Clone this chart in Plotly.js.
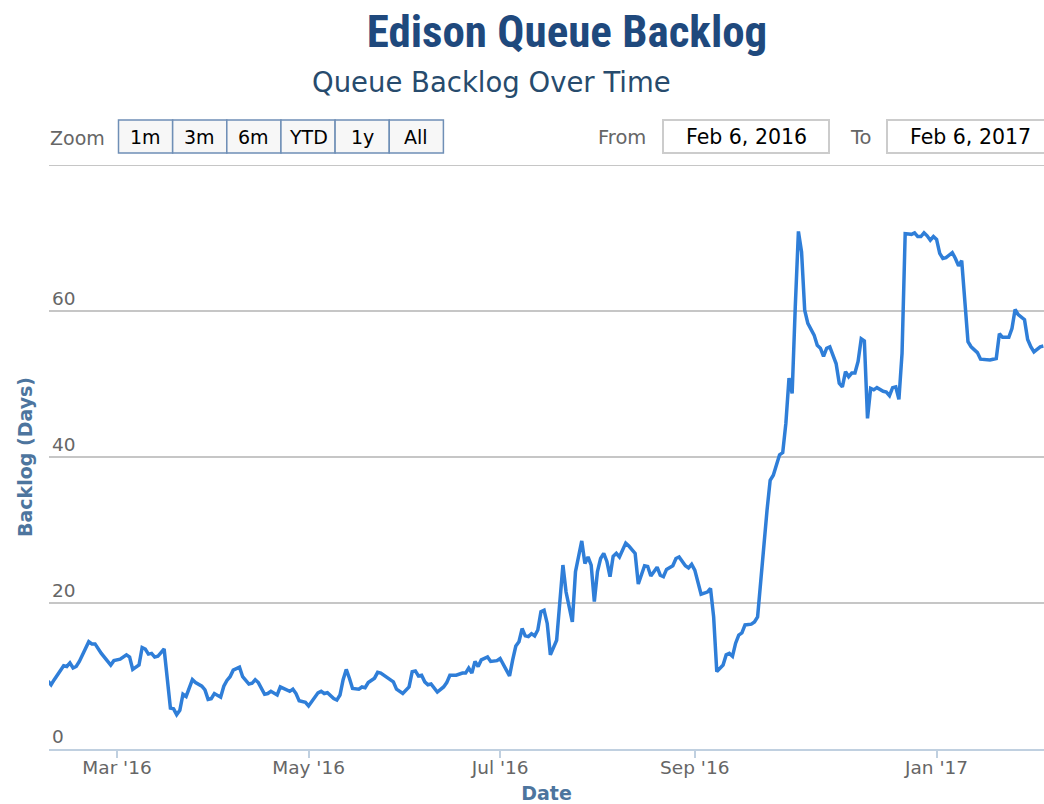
<!DOCTYPE html>
<html>
<head>
<meta charset="utf-8">
<script src="https://cdn.plot.ly/plotly-3.0.1.min.js"></script>
<style>
html, body { margin: 0; padding: 0; background: #ffffff; }
#chart { width: 1044px; height: 804px; }
</style>
</head>
<body>
<div id="chart"></div>
<script>
// ---- data ----
const dates = [
 '2016-02-08','2016-02-09','2016-02-10','2016-02-12','2016-02-13','2016-02-14','2016-02-15','2016-02-16','2016-02-17','2016-02-18',
 '2016-02-20','2016-02-21','2016-02-22','2016-02-23','2016-02-25','2016-02-26','2016-02-28','2016-02-29','2016-03-02','2016-03-04',
 '2016-03-05','2016-03-06','2016-03-08','2016-03-09','2016-03-10','2016-03-11','2016-03-12','2016-03-13','2016-03-14','2016-03-16',
 '2016-03-18','2016-03-19','2016-03-20','2016-03-21','2016-03-22','2016-03-23','2016-03-25','2016-03-26','2016-03-28','2016-03-29',
 '2016-03-30','2016-03-31','2016-04-01','2016-04-03','2016-04-04','2016-04-05','2016-04-06','2016-04-07','2016-04-09','2016-04-10',
 '2016-04-12','2016-04-13','2016-04-14','2016-04-15','2016-04-17','2016-04-18','2016-04-19','2016-04-21','2016-04-22','2016-04-23',
 '2016-04-25','2016-04-26','2016-04-27','2016-04-28','2016-04-30','2016-05-01','2016-05-03','2016-05-04','2016-05-05','2016-05-06',
 '2016-05-07','2016-05-09','2016-05-10','2016-05-11','2016-05-12','2016-05-13','2016-05-14','2016-05-15','2016-05-17','2016-05-18',
 '2016-05-19','2016-05-20','2016-05-22','2016-05-23','2016-05-24','2016-05-26','2016-05-27','2016-05-28','2016-05-29','2016-05-31',
 '2016-06-02','2016-06-03','2016-06-04','2016-06-05','2016-06-06','2016-06-07','2016-06-08','2016-06-09','2016-06-11','2016-06-13',
 '2016-06-14','2016-06-15','2016-06-17','2016-06-19','2016-06-20','2016-06-21','2016-06-22','2016-06-23','2016-06-24','2016-06-25',
 '2016-06-27','2016-06-28','2016-06-30','2016-07-01','2016-07-03','2016-07-04','2016-07-05','2016-07-06','2016-07-07','2016-07-08',
 '2016-07-09','2016-07-10','2016-07-11','2016-07-12','2016-07-13','2016-07-14','2016-07-15','2016-07-16','2016-07-17','2016-07-18',
 '2016-07-19','2016-07-21','2016-07-22','2016-07-24','2016-07-25','2016-07-27','2016-07-28','2016-07-29','2016-07-30','2016-07-31',
 '2016-08-01','2016-08-02','2016-08-03','2016-08-04','2016-08-05','2016-08-06','2016-08-07','2016-08-08','2016-08-10','2016-08-11',
 '2016-08-13','2016-08-14','2016-08-15','2016-08-16','2016-08-17','2016-08-18','2016-08-20','2016-08-21','2016-08-22','2016-08-23',
 '2016-08-25','2016-08-26','2016-08-27','2016-08-29','2016-08-30','2016-08-31','2016-09-01','2016-09-02','2016-09-03','2016-09-05',
 '2016-09-06','2016-09-07','2016-09-08','2016-09-10','2016-09-11','2016-09-12','2016-09-13','2016-09-14','2016-09-15','2016-09-16',
 '2016-09-17','2016-09-19','2016-09-20','2016-09-21','2016-09-23','2016-09-24','2016-09-25','2016-09-26','2016-09-27','2016-09-28',
 '2016-09-29','2016-09-30','2016-10-01','2016-10-02','2016-10-03','2016-10-04','2016-10-05','2016-10-06','2016-10-07','2016-10-09',
 '2016-10-10','2016-10-11','2016-10-12','2016-10-13','2016-10-14','2016-10-15','2016-10-16','2016-10-17','2016-10-18','2016-10-19',
 '2016-10-20','2016-10-21','2016-10-22','2016-10-23','2016-10-24','2016-10-25','2016-10-26','2016-10-27','2016-10-28','2016-10-29',
 '2016-10-31','2016-11-01','2016-11-02','2016-11-03','2016-11-04','2016-11-05','2016-11-06','2016-11-07','2016-11-09','2016-11-10',
 '2016-11-11','2016-11-12','2016-11-13','2016-11-14','2016-11-15','2016-12-31','2017-01-01','2017-01-02','2017-01-03','2017-01-04',
 '2017-01-05','2017-01-06','2017-01-07','2017-01-08','2017-01-09','2017-01-10','2017-01-11','2017-01-12','2017-01-14','2017-01-15',
 '2017-01-17','2017-01-18','2017-01-19','2017-01-20','2017-01-21','2017-01-22','2017-01-24','2017-01-25','2017-01-26','2017-01-27',
 '2017-01-29','2017-01-30','2017-01-31','2017-02-01','2017-02-03','2017-02-04'
];
const backlogDays = [
 9.3, 8.8, 9.5, 10.8, 11.4, 11.3, 11.8, 11.1, 11.3, 12.0,
 13.8, 14.7, 14.4, 14.4, 13.1, 12.5, 11.5, 12.1, 12.3, 12.9,
 12.6, 10.9, 11.5, 13.9, 13.7, 13.0, 13.1, 12.6, 12.7, 13.7,
 5.6, 5.5, 4.7, 5.3, 7.5, 7.2, 9.5, 9.1, 8.6, 8.1,
 6.8, 6.9, 7.6, 7.1, 8.6, 9.4, 9.9, 10.8, 11.2, 9.9,
 8.9, 9.0, 9.5, 9.1, 7.5, 7.6, 7.9, 7.4, 8.5, 8.3,
 7.9, 8.2, 7.6, 6.6, 6.4, 5.9, 7.1, 7.7, 7.9, 7.6,
 7.7, 6.9, 6.7, 7.4, 9.5, 10.9, 9.7, 8.3, 8.2, 8.5,
 8.4, 9.1, 9.7, 10.5, 10.4, 9.8, 9.5, 9.2, 8.2, 7.6,
 8.5, 10.6, 10.7, 10.0, 10.1, 9.2, 8.8, 8.9, 7.8, 8.5,
 9.1, 10.1, 10.1, 10.4, 10.4, 11.1, 10.4, 12.0, 11.3, 12.2,
 12.6, 12.0, 12.1, 12.4, 10.8, 10.0, 12.2, 14.1, 14.7, 16.5,
 15.5, 15.4, 15.8, 15.5, 16.3, 18.8, 19.0, 17.2, 12.9, 13.9,
 14.9, 25.2, 21.5, 17.4, 24.3, 28.5, 25.4, 26.3, 25.2, 20.2,
 24.3, 26.1, 26.8, 25.7, 23.6, 26.4, 26.8, 26.3, 28.2, 27.8,
 26.8, 22.6, 23.8, 25.1, 25.0, 23.7, 24.9, 23.8, 23.6, 24.6,
 25.1, 26.1, 26.3, 25.1, 24.8, 25.3, 24.5, 22.7, 21.2, 21.5,
 22.0, 18.1, 10.6, 11.5, 12.9, 13.1, 12.7, 14.5, 15.6, 15.9,
 17.0, 17.1, 17.4, 18.1, 28.6, 32.7, 36.8, 37.5, 38.9, 40.3,
 40.6, 44.6, 50.8, 48.7, 60.6, 70.9, 68.1, 60.1, 58.3, 56.7,
 55.3, 54.9, 53.8, 54.9, 55.1, 54.0, 52.8, 50.1, 49.6, 51.7,
 51.0, 51.5, 51.5, 53.1, 56.2, 55.9, 45.3, 49.4, 49.2, 49.5,
 49.0, 48.9, 48.4, 49.5, 49.6, 47.9, 54.2, 70.6, 70.5, 70.7,
 70.2, 70.2, 70.7, 70.3, 69.7, 70.2, 69.8, 67.9, 67.2, 67.3,
 67.7, 68.0, 67.2, 66.2, 66.9, 61.1, 55.8, 55.1, 54.3, 53.4,
 53.3, 53.3, 53.4, 53.5, 56.9, 56.4, 56.4, 57.6, 60.2, 59.5,
 58.8, 56.1, 55.1, 54.4, 55.1, 55.2
];
const xTickDates  = ['2016-03-01', '2016-05-01', '2016-07-01', '2016-09-01', '2017-01-01'];
const xTickLabels = ["Mar '16", "May '16", "Jul '16", "Sep '16", "Jan '17"];
const yTickValues = [0, 20, 40, 60, 80];
const yTickLabels = ['0', '20', '40', '60', ''];
const zoomButtons = ['1m', '3m', '6m', 'YTD', '1y', 'All'];
const fromDate = 'Feb 6, 2016';
const toDate   = 'Feb 6, 2017';

// ---- layout helpers (page pixels -> paper coords) ----
const PL = 49, PR = 1044, PT = 165, PB = 749;
const px = x => (x - PL) / (PR - PL);
const py = y => (PB - y) / (PB - PT);
const FONT = 'DejaVu Sans, Verdana, sans-serif';

const shapes = [];
const annotations = [];

// top grid line (value 80, label hidden)
shapes.push({type: 'line', xref: 'paper', yref: 'y', x0: 0, x1: 1, y0: 80, y1: 80,
  line: {color: '#c6c6c6', width: 1.8}});

// subtitle
annotations.push({
  text: 'Queue Backlog Over Time', xref: 'paper', yref: 'paper',
  x: px(491), y: py(82), xanchor: 'center', yanchor: 'middle', showarrow: false,
  font: {family: FONT, size: 27.5, color: '#274b6d'}
});
// range selector
annotations.push({
  text: 'Zoom', xref: 'paper', yref: 'paper', x: px(48), y: py(138),
  xanchor: 'left', yanchor: 'middle', showarrow: false,
  font: {family: FONT, size: 19, color: '#666666'}
});
const btnLeft = 118.5, btnW = 54.15, btnTop = 120, btnBot = 153;
zoomButtons.forEach((label, i) => {
  const x0 = btnLeft + i * btnW, x1 = x0 + btnW;
  shapes.push({type: 'rect', xref: 'paper', yref: 'paper',
    x0: px(x0), x1: px(x1), y0: py(btnBot), y1: py(btnTop),
    fillcolor: '#f7f7f7', line: {color: '#6f8fb6', width: 1.5}});
  annotations.push({text: label, xref: 'paper', yref: 'paper',
    x: px((x0 + x1) / 2), y: py(137), xanchor: 'center', yanchor: 'middle', showarrow: false,
    font: {family: FONT, size: 19, color: '#000000'}});
});
annotations.push({
  text: 'From', xref: 'paper', yref: 'paper', x: px(596), y: py(137),
  xanchor: 'left', yanchor: 'middle', showarrow: false,
  font: {family: FONT, size: 19.5, color: '#666666'}
});
annotations.push({
  text: 'To', xref: 'paper', yref: 'paper', x: px(848), y: py(137),
  xanchor: 'left', yanchor: 'middle', showarrow: false,
  font: {family: FONT, size: 19.5, color: '#666666'}
});
[[663, 829, fromDate], [887, 1070, toDate]].forEach(([a, b, t]) => {
  shapes.push({type: 'rect', xref: 'paper', yref: 'paper',
    x0: px(a), x1: px(b), y0: py(153), y1: py(120),
    fillcolor: '#ffffff', line: {color: '#cccccc', width: 2}});
  annotations.push({text: t, xref: 'paper', yref: 'paper',
    x: px(a + 83), y: py(137), xanchor: 'center', yanchor: 'middle', showarrow: false,
    font: {family: FONT, size: 20.5, color: '#000000'}});
});

const trace = {
  type: 'scatter', mode: 'lines', x: dates, y: backlogDays,
  line: {color: '#2f7ed8', width: 3.5},
  hoverinfo: 'x+y', showlegend: false
};

const layout = {
  width: 1044, height: 804,
  margin: {l: PL, r: 1044 - PR, t: PT, b: 804 - PB, pad: 0},
  paper_bgcolor: '#ffffff', plot_bgcolor: '#ffffff',
  font: {family: FONT, color: '#666666'},
  title: {
    text: 'Edison Queue Backlog', xref: 'container', yref: 'container',
    x: 567 / 1044, xanchor: 'center', y: 1 - 31 / 804, yanchor: 'middle',
    font: {family: 'Liberation Sans Narrow, Roboto Condensed, DejaVu Sans Condensed, sans-serif',
           size: 45, color: '#1f497d', weight: 700}
  },
  xaxis: {
    type: 'date',
    range: ['2016-02-08 08:00', '2017-02-04 05:00'],
    rangebreaks: [{bounds: ['2016-11-16', '2016-12-31']}],
    tickmode: 'array', tickvals: xTickDates, ticktext: xTickLabels,
    ticks: 'outside', ticklen: 7, tickwidth: 1.6, tickcolor: '#c0d0e0',
    ticklabelstandoff: -6,
    showline: true, linecolor: '#c0d0e0', linewidth: 1.6,
    showgrid: false, zeroline: false,
    tickfont: {family: FONT, size: 18.5, color: '#666666'},
    title: {text: 'Date', font: {family: FONT, size: 19, color: '#4d759e', weight: 700}, standoff: 14},
    fixedrange: true
  },
  yaxis: {
    range: [0, 80],
    tickmode: 'array', tickvals: yTickValues, ticktext: yTickLabels,
    ticklabelposition: 'inside top',
    showgrid: true, gridcolor: '#c6c6c6', gridwidth: 1.6,
    zeroline: false, showline: false, ticks: '',
    tickfont: {family: FONT, size: 18.5, color: '#666666'},
    title: {text: 'Backlog (Days)', font: {family: FONT, size: 19, color: '#4d759e', weight: 700}, standoff: 14},
    fixedrange: true
  },
  shapes: shapes,
  annotations: annotations
};

Plotly.newPlot('chart', [trace], layout, {displayModeBar: false});
</script>
</body>
</html>
